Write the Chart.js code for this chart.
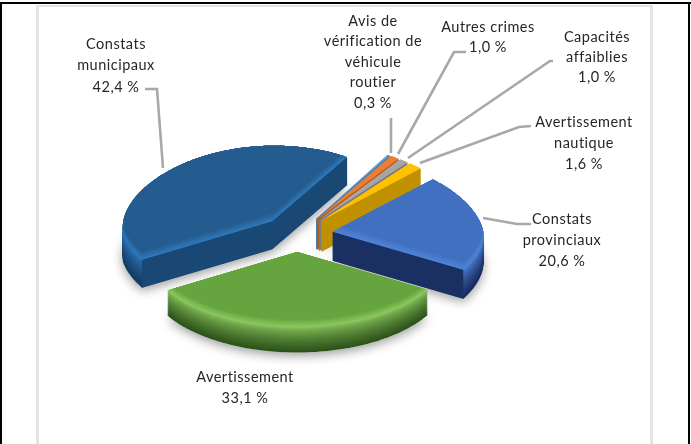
<!DOCTYPE html>
<html>
<head>
<meta charset="utf-8">
<style>
  html, body { margin: 0; padding: 0; background: #fff; overflow: hidden; }
  #pie { display: block; filter: blur(0.4px); }
</style>
<script src="https://cdn.jsdelivr.net/npm/chart.js@4"></script>
</head>
<body>
<canvas id="pie" width="691" height="444"></canvas>
<script>
// Chart values, clockwise from the top right
const categories = [
  "Constats provinciaux", "Avertissement", "Constats municipaux",
  "Avis de vérification de véhicule routier", "Autres crimes",
  "Capacités affaiblies", "Avertissement nautique"
];
const shares = [20.6, 33.1, 42.4, 0.3, 1.0, 1.0, 1.6];
const labelLines = [
  ["Constats", "provinciaux"], ["Avertissement"], ["Constats", "municipaux"],
  ["Avis de", "vérification de", "véhicule", "routier"], ["Autres crimes"],
  ["Capacités", "affaiblies"], ["Avertissement", "nautique"]
];

// Look of the slices: flat top, bright ridge, dark foot, cut face, depth
const topColors = ["#4270c0", "#65a43e", "#255c8f", "#5b9bd5", "#ed7d31", "#a5a5a5", "#ffc000"];
const ridgeColors = ["#4f84d6", "#8cc75f", "#2f78ba", "#5b9bd5", "#ed7d31", "#b5b5b5", "#ffc000"];
const footColors = ["#16285a", "#2c5219", "#123a60", "#41709c", "#ad5a23", "#777777", "#b88a00"];
const faceColors = ["#1a3062", "#2c5219", "#1a4874", "#4a7ba8", "#b35c22", "#7c7c7c", "#bf9000"];
const depths = [29, 25, 28, 31, 31, 31, 31];
// back to front
const drawOrder = [3, 4, 5, 6, 2, 0, 1];

// Label centres and their leader lines, in page pixels
const labelCenters = [[562, 219], [245, 377], [116, 44], [373, 21], [488, 27], [597, 37], [584, 122]];
const leaderLines = [
  [[531, 224], [517, 224], [483, 218]],
  null,
  [[145, 89], [157, 89], [163, 168]],
  [[391, 118], [391, 153]],
  [[466, 52], [454, 52], [398, 154]],
  [[553, 61], [550, 61], [408, 158]],
  [[531, 126], [519, 127], [420, 163]]
];

const TILT = 0.5;
const BACK_SHRINK = 0.0011; // far side of the pie narrows a little

function mix(a, b, t) {
  const pa = parseInt(a.slice(1), 16), pb = parseInt(b.slice(1), 16);
  const ch = (s) => Math.round(((pa >> s) & 255) * (1 - t) + ((pb >> s) & 255) * t);
  return `rgb(${ch(16)},${ch(8)},${ch(0)})`;
}

// Pie-plane point to page point
function project(arc, x, y) {
  const above = Math.max(0, -y) * TILT;
  return { x: arc.x + x * (1 - above * BACK_SHRINK), y: arc.y + y * TILT };
}

// Apex of an exploded slice, in pie-plane coordinates
function apexOf(arc) {
  const mid = (arc.startAngle + arc.endAngle) / 2;
  const off = arc.options.offset / 4;
  return { x: Math.cos(mid) * off, y: Math.sin(mid) * off };
}

function sector(ctx, arc, r, dy) {
  const a = apexOf(arc);
  const p0 = project(arc, a.x, a.y);
  ctx.beginPath();
  ctx.moveTo(p0.x, p0.y + dy);
  const steps = Math.ceil((arc.endAngle - arc.startAngle) * 40);
  for (let s = 0; s <= steps; s++) {
    const t = arc.startAngle + (arc.endAngle - arc.startAngle) * s / steps;
    const p = project(arc, a.x + Math.cos(t) * r, a.y + Math.sin(t) * r);
    ctx.lineTo(p.x, p.y + dy);
  }
  ctx.closePath();
}

function cutFace(ctx, arc, r, angle, depth, color) {
  const a = apexOf(arc);
  const p0 = project(arc, a.x, a.y);
  const p1 = project(arc, a.x + Math.cos(angle) * r, a.y + Math.sin(angle) * r);
  ctx.beginPath();
  ctx.moveTo(p0.x, p0.y);
  ctx.lineTo(p1.x, p1.y);
  ctx.lineTo(p1.x, p1.y + depth);
  ctx.lineTo(p0.x, p0.y + depth);
  ctx.closePath();
  ctx.fillStyle = color;
  ctx.fill();
}

const tiltedPie = {
  id: "tiltedPie",
  beforeDraw(chart) {
    const ctx = chart.ctx;
    ctx.save();
    ctx.fillStyle = "#fff";
    ctx.fillRect(0, 0, 691, 444);
    ctx.fillStyle = "#e4e4e4";
    ctx.fillRect(36, 5, 616, 2);
    ctx.fillRect(36, 5, 3, 439);
    ctx.fillRect(650, 5, 3, 439);
    ctx.fillStyle = "#000";
    ctx.fillRect(0, 2, 691, 2);
    ctx.fillRect(0, 2, 2, 442);
    ctx.fillRect(688, 2, 2, 442);
    ctx.restore();
  },
  beforeDatasetsDraw(chart) {
    const ctx = chart.ctx;
    const arcs = chart.getDatasetMeta(0).data;
    ctx.save();

    // soft shadow under the whole pie first
    ctx.shadowColor = "rgba(0,0,0,0.4)";
    ctx.shadowBlur = 11;
    ctx.shadowOffsetY = 3;
    drawOrder.forEach((i) => {
      sector(ctx, arcs[i], arcs[i].outerRadius, depths[i]);
      ctx.fillStyle = "#fff";
      ctx.fill();
    });
    ctx.shadowColor = "transparent";

    drawOrder.forEach((i) => {
      const arc = arcs[i], r = arc.outerRadius, depth = depths[i];

      // rim: stacked copies from the foot up to the ridge
      for (let d = depth; d >= 0; d--) {
        sector(ctx, arc, r, d);
        ctx.fillStyle = mix(ridgeColors[i], footColors[i], Math.pow(d / depth, 0.7));
        ctx.fill();
      }
      // straight cut faces that look toward the viewer
      [arc.startAngle, arc.endAngle].forEach((a, k) => {
        const nx = k === 0 ? Math.sin(a) : -Math.sin(a);
        const ny = k === 0 ? -Math.cos(a) : Math.cos(a);
        if (ny > 0.02) {
          const c = nx > 0.5 && i === 2 ? faceColors[i] : mix(faceColors[i], "#000000", i === 2 ? 0.16 : 0);
          cutFace(ctx, arc, r, a, depth, c);
        }
      });
      // top: ridge colour shows only on the near edge
      ctx.save();
      sector(ctx, arc, r, 0);
      ctx.clip();
      const bevel = i < 3 ? 8 : 0;
      for (let k = 0; k <= bevel; k++) {
        sector(ctx, arc, r, -k);
        ctx.fillStyle = mix(ridgeColors[i], topColors[i], bevel ? k / bevel : 1);
        ctx.fill();
      }
      ctx.restore();
    });
    ctx.restore();
    return false;
  },
  afterDraw(chart) {
    const ctx = chart.ctx;
    ctx.save();
    ctx.strokeStyle = "#a8a8a8";
    ctx.lineWidth = 2.6;
    leaderLines.forEach((line) => {
      if (!line) return;
      ctx.beginPath();
      line.forEach(([x, y], k) => (k ? ctx.lineTo(x, y) : ctx.moveTo(x, y)));
      ctx.stroke();
    });
    ctx.font = '14.5px Lato, "Open Sans", sans-serif';
    ctx.letterSpacing = "0.5px";
    ctx.fillStyle = "#262626";
    ctx.textAlign = "center";
    ctx.textBaseline = "middle";
    const rowHeight = [21, 21, 21.5, 20.5, 20, 20, 21];
    labelLines.forEach((lines, i) => {
      const rows = lines.concat(shares[i].toFixed(1).replace(".", ",") + " %");
      rows.forEach((row, k) => {
        ctx.fillText(row, labelCenters[i][0], labelCenters[i][1] + k * rowHeight[i]);
      });
    });
    ctx.restore();
  }
};

new Chart(document.getElementById("pie"), {
  type: "pie",
  data: {
    labels: categories,
    datasets: [{
      data: shares,
      backgroundColor: topColors,
      borderWidth: 0,
      offset: 144
    }]
  },
  options: {
    responsive: false,
    animation: false,
    rotation: 46,
    radius: 151,
    layout: { padding: { left: 0, right: 97, top: 24, bottom: 0 } },
    plugins: { legend: { display: false }, tooltip: { enabled: false } }
  },
  plugins: [tiltedPie]
});
</script>
</body>
</html>
